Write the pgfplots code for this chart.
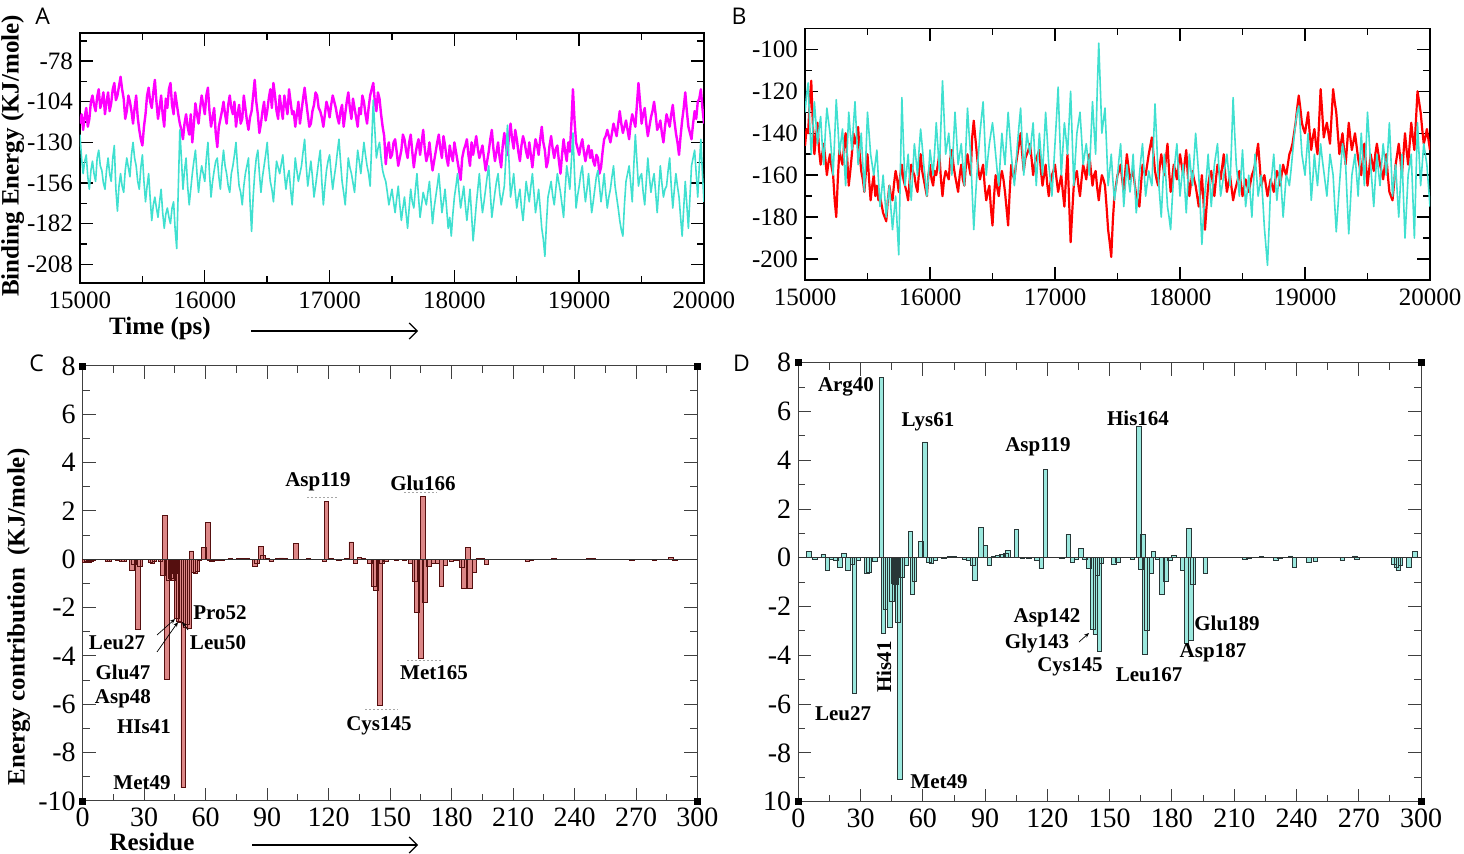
\documentclass[border=0pt]{standalone}
\usepackage{fontspec}
\setmainfont{Liberation Serif}
\newfontfamily\panelfont{Open Sans}
\usepackage{pgfplots}
\usepackage{pgfplotstable}
\pgfplotsset{compat=1.18}
\usetikzlibrary{arrows.meta}

\definecolor{mag}{RGB}{255,0,255}
\definecolor{turq}{RGB}{64,224,208}
\definecolor{redl}{RGB}{255,0,0}
\definecolor{cfill}{RGB}{220,135,135}
\definecolor{cdraw}{RGB}{85,15,15}
\definecolor{dfill}{RGB}{155,232,222}
\definecolor{ddraw}{RGB}{40,55,55}

\pgfplotstableread{
t am ac br bc
15000 -118 -125 -146 -130
15012.5 -112 -140 -138 -122
15025 -122 -150 -140 -116
15037.5 -114 -142 -125 -135
15050 -108 -138 -115 -150
15062.5 -120 -152 -135 -138
15075 -115 -160 -150 -125
15087.5 -104 -148 -142 -135
15100 -100 -142 -135 -145
15112.5 -106 -150 -148 -138
15125 -110 -155 -155 -132
15137.5 -101 -140 -150 -145
15150 -96 -135 -145 -155
15162.5 -108 -145 -152 -140
15175 -104 -148 -160 -128
15187.5 -98 -156 -154 -134
15200 -112 -160 -150 -140
15212.5 -104 -148 -156 -150
15225 -98 -140 -160 -160
15237.5 -110 -150 -172 -142
15250 -105 -155 -180 -124
15262.5 -96 -140 -162 -136
15275 -92 -132 -148 -150
15287.5 -103 -160 -152 -144
15300 -100 -174 -155 -138
15312.5 -94 -158 -146 -152
15325 -88 -150 -140 -165
15337.5 -96 -158 -152 -148
15350 -102 -162 -165 -130
15362.5 -115 -148 -158 -140
15375 -110 -140 -150 -148
15387.5 -100 -146 -140 -136
15400 -104 -152 -145 -125
15412.5 -110 -138 -142 -140
15425 -118 -130 -137 -155
15437.5 -108 -140 -150 -148
15450 -100 -145 -158 -140
15462.5 -114 -155 -162 -155
15475 -122 -160 -168 -168
15487.5 -128 -146 -158 -150
15500 -132 -138 -150 -130
15512.5 -120 -155 -162 -140
15525 -112 -168 -172 -150
15537.5 -100 -158 -165 -155
15550 -95 -150 -160 -160
15562.5 -104 -166 -170 -154
15575 -108 -180 -165 -148
15587.5 -98 -170 -172 -162
15600 -90 -165 -170 -175
15612.5 -104 -172 -174 -168
15625 -115 -178 -178 -160
15637.5 -108 -168 -180 -170
15650 -100 -160 -182 -180
15662.5 -112 -175 -172 -172
15675 -120 -185 -165 -165
15687.5 -102 -176 -170 -176
15700 -108 -172 -172 -186
15712.5 -96 -178 -164 -178
15725 -92 -182 -158 -170
15737.5 -106 -172 -162 -184
15750 -112 -168 -168 -198
15762.5 -98 -186 -160 -160
15775 -105 -198 -155 -123
15787.5 -112 -160 -162 -145
15800 -118 -122 -165 -165
15812.5 -122 -140 -168 -158
15825 -128 -160 -172 -150
15837.5 -118 -148 -162 -162
15850 -112 -140 -155 -172
15862.5 -120 -158 -158 -158
15875 -125 -170 -160 -145
15887.5 -112 -160 -165 -152
15900 -130 -150 -168 -160
15912.5 -118 -142 -158 -148
15925 -105 -135 -150 -138
15937.5 -112 -150 -158 -146
15950 -118 -162 -162 -155
15962.5 -108 -152 -166 -162
15975 -100 -145 -170 -170
15987.5 -106 -150 -160 -160
16000 -112 -155 -155 -148
16012.5 -100 -140 -162 -154
16025 -95 -130 -165 -160
16037.5 -110 -150 -158 -148
16050 -120 -165 -160 -135
16062.5 -114 -155 -155 -146
16075 -108 -148 -150 -158
16087.5 -124 -142 -162 -136
16100 -133 -140 -170 -115
16112.5 -120 -152 -162 -132
16125 -115 -160 -158 -150
16137.5 -110 -145 -160 -145
16150 -104 -135 -162 -140
16162.5 -112 -145 -152 -150
16175 -118 -150 -148 -160
16187.5 -106 -158 -155 -145
16200 -100 -162 -160 -130
16212.5 -108 -150 -164 -142
16225 -112 -145 -168 -155
16237.5 -104 -138 -160 -150
16250 -120 -130 -155 -145
16262.5 -112 -146 -162 -155
16275 -106 -158 -165 -165
16287.5 -118 -162 -155 -146
16300 -115 -170 -150 -128
16312.5 -100 -158 -156 -140
16325 -108 -150 -160 -150
16337.5 -116 -145 -142 -168
16350 -122 -140 -134 -186
16362.5 -114 -168 -142 -172
16375 -110 -187 -150 -160
16387.5 -100 -165 -158 -150
16400 -90 -150 -162 -140
16412.5 -104 -140 -158 -132
16425 -112 -135 -155 -125
16437.5 -124 -150 -165 -142
16450 -118 -162 -172 -160
16462.5 -110 -152 -168 -152
16475 -104 -145 -165 -145
16487.5 -116 -138 -176 -140
16500 -110 -130 -184 -135
16512.5 -102 -145 -170 -142
16525 -96 -155 -160 -150
16537.5 -108 -160 -166 -158
16550 -92 -168 -170 -165
16562.5 -100 -155 -162 -152
16575 -110 -142 -158 -140
16587.5 -115 -146 -162 -148
16600 -100 -150 -168 -155
16612.5 -108 -144 -176 -142
16625 -115 -138 -184 -130
16637.5 -100 -150 -168 -140
16650 -106 -160 -155 -150
16662.5 -112 -152 -160 -158
16675 -96 -148 -162 -165
16687.5 -104 -160 -155 -155
16700 -112 -170 -150 -145
16712.5 -110 -155 -145 -136
16725 -120 -140 -140 -128
16737.5 -112 -148 -150 -145
16750 -104 -155 -158 -160
16762.5 -118 -150 -152 -150
16775 -110 -145 -150 -140
16787.5 -102 -136 -148 -145
16800 -95 -128 -145 -150
16812.5 -104 -145 -152 -142
16825 -112 -158 -160 -135
16837.5 -120 -150 -155 -150
16850 -118 -142 -152 -165
16862.5 -110 -152 -150 -152
16875 -106 -165 -148 -140
16887.5 -98 -158 -158 -150
16900 -100 -150 -165 -160
16912.5 -108 -142 -160 -145
16925 -110 -135 -155 -130
16937.5 -114 -155 -164 -142
16950 -120 -170 -170 -155
16962.5 -112 -158 -164 -162
16975 -104 -148 -160 -170
16987.5 -108 -142 -158 -158
17000 -114 -138 -155 -145
17012.5 -106 -150 -162 -132
17025 -100 -160 -168 -118
17037.5 -104 -152 -164 -140
17050 -108 -145 -160 -160
17062.5 -114 -136 -168 -148
17075 -118 -128 -175 -135
17087.5 -110 -142 -162 -142
17100 -106 -155 -150 -150
17112.5 -120 -162 -172 -135
17125 -112 -170 -192 -120
17137.5 -104 -155 -178 -142
17150 -98 -140 -165 -165
17162.5 -108 -146 -160 -152
17175 -115 -150 -158 -140
17187.5 -102 -156 -165 -135
17200 -108 -162 -170 -130
17212.5 -114 -148 -162 -142
17225 -120 -135 -155 -155
17237.5 -108 -142 -158 -150
17250 -112 -150 -162 -145
17262.5 -100 -140 -155 -152
17275 -104 -130 -150 -160
17287.5 -112 -138 -158 -142
17300 -118 -145 -165 -125
17312.5 -108 -150 -160 -138
17325 -100 -158 -158 -150
17337.5 -96 -130 -166 -120
17350 -92 -103 -172 -97
17362.5 -104 -122 -165 -118
17375 -110 -140 -160 -140
17387.5 -98 -134 -162 -134
17400 -102 -130 -165 -128
17412.5 -112 -140 -175 -146
17425 -120 -148 -186 -165
17437.5 -126 -152 -192 -158
17450 -144 -155 -199 -150
17462.5 -134 -162 -182 -162
17475 -130 -170 -170 -172
17487.5 -140 -165 -165 -166
17500 -138 -160 -160 -160
17512.5 -130 -168 -158 -152
17525 -128 -175 -155 -145
17537.5 -136 -166 -162 -160
17550 -145 -158 -168 -175
17562.5 -140 -170 -158 -165
17575 -135 -180 -150 -155
17587.5 -125 -172 -156 -162
17600 -128 -165 -162 -168
17612.5 -135 -175 -160 -160
17625 -140 -185 -158 -150
17637.5 -130 -172 -164 -164
17650 -125 -160 -170 -178
17662.5 -136 -168 -172 -170
17675 -146 -172 -175 -160
17687.5 -138 -160 -165 -152
17700 -132 -150 -155 -145
17712.5 -128 -165 -158 -158
17725 -138 -178 -160 -170
17737.5 -130 -170 -155 -164
17750 -122 -162 -150 -158
17762.5 -134 -166 -146 -162
17775 -142 -170 -142 -165
17787.5 -138 -162 -150 -145
17800 -130 -155 -158 -126
17812.5 -140 -168 -162 -142
17825 -148 -182 -165 -160
17837.5 -142 -172 -156 -170
17850 -136 -165 -150 -180
17862.5 -130 -158 -155 -165
17875 -125 -150 -160 -150
17887.5 -134 -162 -152 -162
17900 -140 -175 -145 -175
17912.5 -126 -168 -158 -180
17925 -132 -160 -168 -186
17937.5 -140 -172 -162 -172
17950 -145 -185 -155 -160
17962.5 -132 -178 -158 -152
17975 -138 -190 -162 -145
17987.5 -142 -176 -155 -158
18000 -130 -165 -150 -170
18012.5 -136 -158 -155 -162
18025 -142 -150 -160 -155
18037.5 -148 -162 -154 -166
18050 -154 -172 -148 -178
18062.5 -140 -165 -160 -164
18075 -135 -158 -170 -150
18087.5 -132 -170 -164 -158
18100 -128 -180 -158 -165
18112.5 -138 -170 -162 -152
18125 -145 -160 -165 -140
18137.5 -130 -176 -170 -150
18150 -138 -193 -175 -160
18162.5 -132 -182 -168 -176
18175 -126 -170 -160 -193
18187.5 -134 -160 -172 -180
18200 -140 -150 -186 -168
18212.5 -136 -165 -175 -160
18225 -132 -175 -165 -150
18237.5 -140 -168 -160 -162
18250 -148 -160 -158 -175
18262.5 -142 -152 -164 -165
18275 -136 -145 -170 -155
18287.5 -128 -162 -162 -150
18300 -122 -178 -155 -145
18312.5 -134 -170 -158 -158
18325 -142 -162 -162 -170
18337.5 -136 -155 -156 -165
18350 -130 -150 -150 -160
18362.5 -140 -162 -160 -155
18375 -146 -170 -168 -150
18387.5 -132 -164 -164 -158
18400 -124 -158 -160 -165
18412.5 -132 -140 -166 -145
18425 -138 -119 -172 -123
18437.5 -126 -142 -168 -140
18450 -118 -165 -165 -155
18462.5 -128 -158 -162 -162
18475 -134 -150 -158 -170
18487.5 -122 -162 -164 -160
18500 -128 -172 -170 -148
18512.5 -136 -165 -166 -162
18525 -142 -160 -162 -175
18537.5 -132 -172 -165 -168
18550 -126 -180 -168 -160
18562.5 -130 -168 -164 -170
18575 -136 -155 -160 -180
18587.5 -140 -162 -158 -165
18600 -130 -168 -155 -150
18612.5 -138 -158 -150 -160
18625 -146 -150 -145 -170
18637.5 -136 -162 -155 -165
18650 -128 -175 -165 -160
18662.5 -132 -168 -162 -172
18675 -138 -160 -160 -185
18687.5 -128 -172 -165 -194
18700 -120 -185 -170 -203
18712.5 -130 -192 -166 -185
18725 -135 -203 -162 -165
18737.5 -146 -182 -165 -158
18750 -142 -165 -168 -150
18762.5 -132 -160 -162 -162
18775 -126 -155 -158 -172
18787.5 -134 -164 -160 -164
18800 -140 -170 -165 -155
18812.5 -134 -160 -160 -168
18825 -132 -150 -155 -180
18837.5 -142 -156 -158 -170
18850 -150 -162 -160 -160
18862.5 -138 -170 -155 -162
18875 -128 -178 -150 -165
18887.5 -136 -160 -148 -158
18900 -142 -145 -145 -150
18912.5 -130 -152 -140 -142
18925 -136 -160 -135 -135
18937.5 -118 -142 -128 -130
18950 -96 -124 -122 -127
18962.5 -116 -150 -128 -138
18975 -130 -172 -135 -150
18987.5 -134 -164 -138 -155
19000 -138 -158 -140 -160
19012.5 -132 -150 -135 -150
19025 -128 -145 -130 -140
19037.5 -136 -158 -140 -156
19050 -142 -168 -148 -172
19062.5 -136 -160 -142 -162
19075 -132 -150 -138 -150
19087.5 -140 -162 -145 -158
19100 -135 -175 -150 -165
19112.5 -142 -168 -135 -155
19125 -145 -160 -119 -145
19137.5 -138 -152 -130 -152
19150 -140 -148 -142 -158
19162.5 -150 -158 -138 -164
19175 -146 -168 -135 -170
19187.5 -136 -160 -140 -160
19200 -128 -150 -145 -150
19212.5 -126 -162 -132 -155
19225 -122 -172 -119 -160
19237.5 -126 -165 -125 -174
19250 -130 -160 -130 -187
19262.5 -124 -152 -140 -176
19275 -118 -145 -150 -165
19287.5 -122 -158 -145 -155
19300 -126 -165 -140 -145
19312.5 -118 -172 -148 -150
19325 -110 -180 -155 -155
19337.5 -118 -186 -145 -172
19350 -124 -190 -135 -188
19362.5 -120 -170 -142 -174
19375 -116 -155 -148 -160
19387.5 -122 -150 -144 -155
19400 -128 -145 -140 -150
19412.5 -118 -156 -146 -160
19425 -112 -168 -152 -170
19437.5 -116 -145 -156 -155
19450 -120 -125 -160 -140
19462.5 -106 -142 -152 -152
19475 -92 -158 -145 -165
19487.5 -104 -152 -155 -148
19500 -118 -150 -165 -130
19512.5 -112 -162 -158 -142
19525 -108 -170 -150 -155
19537.5 -118 -155 -154 -165
19550 -126 -140 -158 -175
19562.5 -120 -152 -150 -162
19575 -114 -162 -145 -150
19587.5 -110 -155 -150 -158
19600 -104 -150 -155 -165
19612.5 -112 -162 -158 -155
19625 -122 -175 -162 -145
19637.5 -120 -160 -156 -152
19650 -116 -145 -150 -160
19662.5 -124 -156 -160 -148
19675 -130 -165 -168 -135
19687.5 -120 -160 -170 -152
19700 -112 -158 -172 -170
19712.5 -116 -148 -164 -162
19725 -120 -140 -155 -155
19737.5 -112 -158 -150 -168
19750 -106 -172 -145 -180
19762.5 -116 -160 -152 -165
19775 -124 -150 -160 -150
19787.5 -130 -158 -150 -170
19800 -138 -165 -140 -190
19812.5 -126 -178 -148 -175
19825 -116 -190 -155 -160
19837.5 -108 -172 -145 -155
19850 -98 -155 -135 -150
19862.5 -110 -170 -142 -170
19875 -120 -185 -148 -190
19887.5 -124 -165 -134 -162
19900 -128 -145 -120 -135
19912.5 -118 -140 -125 -150
19925 -110 -135 -130 -165
19937.5 -115 -150 -138 -155
19950 -104 -165 -145 -145
19962.5 -102 -145 -142 -150
19975 -96 -128 -138 -155
19987.5 -108 -150 -143 -165
20000 -118 -168 -148 -175
}\tsdata

\pgfplotstableread{
r v
1 -0.12
2 -0.10
3 -0.12
4 -0.08
5 -0.06
8 -0.02
12 -0.08
13 -0.10
17 -0.05
19 -0.10
20 -0.08
24 -0.45
25 -0.20
27 -2.90
28 -0.30
33 -0.12
34 -0.15
35 -0.10
38 -0.10
39 -0.65
40 1.82
41 -4.95
42 -0.85
43 -0.80
44 -0.85
45 -0.60
46 -2.45
47 -2.55
48 -2.60
49 -9.45
50 -2.80
51 -2.70
52 -2.85
53 0.35
54 -0.55
55 -0.60
56 -0.50
57 -0.05
59 0.50
61 1.52
62 -0.05
63 -0.08
65 -0.05
68 -0.04
72 0.02
76 0.03
78 0.02
80 0.02
84 -0.28
85 -0.15
87 0.55
88 0.15
90 0.05
92 -0.08
95 0.05
97 0.06
99 0.03
104 0.65
110 0.02
114 -0.02
118 -0.10
119 2.40
121 0.03
125 -0.03
129 0.05
131 0.72
133 -0.15
135 0.08
137 0.05
140 -0.15
142 -1.10
143 -1.30
145 -6.05
146 -0.15
148 -0.08
153 -0.03
157 -0.03
160 -0.15
162 -0.90
163 -2.20
165 -4.10
166 2.60
167 -1.80
169 -0.30
171 -0.15
173 -0.18
175 -1.10
177 -0.25
180 -0.08
182 -0.05
185 -0.35
186 -1.20
188 0.50
189 -1.20
191 -0.55
193 0.05
195 0.03
197 -0.22
217 -0.08
219 -0.03
224 -0.02
230 0.02
235 -0.02
247 0.05
249 0.05
265 -0.02
268 -0.04
279 -0.04
287 0.08
289 -0.05
293 -0.02
298 -0.02
}\cdata

\pgfplotstableread{
r v
5 0.25
8 -0.05
12 0.15
14 -0.50
16 -0.08
18 -0.10
20 -0.40
22 0.18
24 -0.52
26 -0.25
27 -5.55
29 -0.10
33 -0.65
34 -0.60
37 -0.15
40 7.40
41 -3.10
42 -2.10
44 -2.85
45 -1.80
46 -1.05
47 -1.10
48 -2.65
49 -9.10
50 -0.80
52 -0.30
54 1.08
55 -1.48
56 -0.95
59 0.67
61 4.75
63 -0.20
64 -0.22
66 -0.10
70 -0.03
73 0.04
75 0.06
77 0.03
80 -0.08
82 -0.12
84 -0.30
85 -0.92
88 1.26
90 0.50
92 -0.30
94 0.05
96 0.10
98 0.15
100 0.20
101 0.30
105 1.15
108 -0.03
111 -0.02
115 -0.10
117 -0.45
119 3.63
121 0.03
124 0.02
127 -0.02
130 0.96
132 -0.18
134 -0.08
136 0.37
138 -0.05
140 -0.45
142 -2.92
143 -3.15
144 -0.72
145 -3.85
146 -0.22
152 -0.27
154 -0.20
161 -0.05
164 5.40
165 -0.48
166 0.96
167 -3.95
168 -2.96
170 -0.62
171 0.25
173 -0.05
175 -1.48
177 -0.97
179 -0.10
181 0.10
185 -0.50
187 -3.50
188 1.22
189 -3.40
190 -1.10
193 0.03
196 -0.62
204 0.02
215 -0.06
217 -0.03
223 0.05
230 -0.10
232 -0.03
237 0.08
239 -0.38
246 -0.20
249 -0.15
262 -0.10
268 0.08
269 -0.08
279 0.02
287 -0.25
288 -0.40
289 -0.50
290 -0.30
294 -0.38
297 0.25
}\ddata

\pgfplotsset{
  common/.style={
    scale only axis, anchor=south west, tick align=inside,
    /pgf/number format/assume math mode=true,
    scaled ticks=false,
  },
  tsaxis/.style={
    common,
    axis line style={line width=0.8pt},
    every tick/.style={black, line width=0.7pt},
    major tick length=6.3pt, minor tick length=3.5pt,
    xmin=15000, xmax=20000,
    xtick={15000,16000,17000,18000,19000,20000},
    xticklabels={15000,16000,17000,18000,19000,20000},
    minor x tick num=1,
    ticklabel style={font=\rmfamily\fontsize{12.5}{14}\selectfont},
    xticklabel style={yshift=-1pt},
  },
  baraxis/.style={
    common,
    axis line style={line width=0.5pt, black!75},
    every tick/.style={black!75, line width=0.5pt},
    major tick length=6.5pt, minor tick length=3.5pt,
    xmin=0, xmax=300, ymin=-10, ymax=8,
    xtick={0,30,...,300},
    xticklabels={0,30,60,90,120,150,180,210,240,270,300},
    minor x tick num=1,
    ytick={-10,-8,...,8},
    minor y tick num=1,
    ticklabel style={font=\rmfamily\fontsize{14}{16}\selectfont},
    clip=false,
  },
}

\begin{document}
\begin{tikzpicture}
\useasboundingbox (0pt,0pt) rectangle (732pt,426.5pt);

% ---------- Panel A ----------
\begin{axis}[tsaxis, at={(40pt,285pt)}, width=312pt, height=125pt,
  ymin=-220, ymax=-60,
  ytick={-208,-182,-156,-130,-104,-78},
  yticklabels={-208,-182,-156,-130,-104,-78},
  minor ytick={-195,-169,-143,-117,-91,-65}]
\addplot[mag, line width=1.2pt, line join=round] table[x=t,y=am]{\tsdata};
\addplot[turq, line width=0.8pt, line join=round] table[x=t,y=ac]{\tsdata};
\end{axis}

% ---------- Panel B ----------
\begin{axis}[tsaxis, at={(402.5pt,286.5pt)}, width=312.5pt, height=125.8pt,
  ymin=-210, ymax=-90,
  ytick={-200,-180,-160,-140,-120,-100},
  yticklabels={-200,-180,-160,-140,-120,-100},
  minor y tick num=1]
\addplot[redl, line width=1.1pt, line join=round] table[x=t,y=br]{\tsdata};
\addplot[turq, line width=0.8pt, line join=round] table[x=t,y=bc]{\tsdata};
\end{axis}

% ---------- Panel C ----------
\begin{axis}[baraxis, at={(41.35pt,26pt)}, width=307.4pt, height=217.5pt,
  yticklabels={-10,-8,-6,-4,-2,0,2,4,6,8}]
\addplot[ybar, bar width=2.2, fill=cfill, draw=cdraw, line width=0.35pt] table[x=r,y=v]{\cdata};
\addplot[black!80, line width=0.5pt] coordinates {(0,0) (300,0)};
\addplot[only marks, mark=square*, mark size=1.5pt, black] coordinates {(0,8) (300,8) (0,-10) (300,-10)};
\end{axis}

% ---------- Panel D ----------
\begin{axis}[baraxis, at={(399.15pt,25.65pt)}, width=311.4pt, height=219.5pt,
  yticklabels={10,-8,-6,-4,-2,0,2,4,6,8}]
\addplot[ybar, bar width=2.2, fill=dfill, draw=ddraw, line width=0.35pt] table[x=r,y=v]{\ddata};
\addplot[black!80, line width=0.5pt] coordinates {(0,0) (300,0)};
\addplot[only marks, mark=square*, mark size=1.5pt, black] coordinates {(0,8) (300,8) (0,-10) (300,-10)};
\end{axis}

% ---------- panel letters ----------
\begin{scope}[every node/.style={font=\panelfont\fontsize{11.5}{13}\selectfont, inner sep=0pt}]
\node at (21.3pt,418.5pt) {A};
\node at (369.5pt,418.5pt) {B};
\node at (18.3pt,245pt) {C};
\node at (370.8pt,245pt) {D};
\end{scope}

% ---------- axis titles ----------
\node[rotate=90, anchor=north, inner sep=0pt, font=\bfseries\fontsize{12.5}{14}\selectfont] at (0.5pt,348.5pt) {Binding Energy (KJ/mole)};
\node[font=\bfseries\fontsize{12.5}{14}\selectfont, inner sep=0pt] at (80pt,262.5pt) {Time (ps)};
\draw[-{Straight Barb[length=4pt,width=8pt]}, line width=0.6pt] (125.5pt,261pt) -- (209pt,261pt);
\node[rotate=90, anchor=north, inner sep=0pt, font=\bfseries\fontsize{12.5}{14}\selectfont] at (3.5pt,118pt) {Energy contribution\ \ (KJ/mole)};
\node[font=\bfseries\fontsize{12.5}{14}\selectfont, inner sep=0pt] at (76pt,5.5pt) {Residue};
\draw[-{Straight Barb[length=4pt,width=8pt]}, line width=0.6pt] (126pt,4pt) -- (209pt,4pt);

% ---------- residue labels ----------
\begin{scope}[every node/.style={font=\bfseries\fontsize{10.5}{12}\selectfont, inner sep=0pt}]
\node at (159pt,185.5pt) {Asp119};
\node at (211.5pt,185pt) {Glu166};
\node at (110pt,120pt) {Pro52};
\node at (109pt,105pt) {Leu50};
\node at (58.5pt,105pt) {Leu27};
\node at (61.5pt,90.5pt) {Glu47};
\node at (61.5pt,77pt) {Asp48};
\node at (72pt,63pt) {HIs41};
\node at (71pt,35pt) {Met49};
\node at (217pt,90pt) {Met165};
\node at (189.5pt,63.5pt) {Cys145};
\node at (423pt,233pt) {Arg40};
\node at (464pt,215.5pt) {Lys61};
\node at (519pt,203pt) {Asp119};
\node at (421.5pt,69.5pt) {Leu27};
\node[rotate=90] at (442pt,93pt) {His41};
\node at (469.5pt,35.5pt) {Met49};
\node at (523.5pt,117.5pt) {Asp142};
\node at (518.5pt,105pt) {Gly143};
\node at (535pt,93pt) {Cys145};
\node at (569pt,217.5pt) {His164};
\node at (613.5pt,115pt) {Glu189};
\node at (606.5pt,100pt) {Asp187};
\node at (574.5pt,89pt) {Leu167};
\end{scope}

% small annotation arrows and dashes
\draw[-{Stealth[length=2.5pt,width=2pt]}, line width=0.35pt] (78.5pt,109pt) -- (87.5pt,117pt);
\draw[-{Stealth[length=2.5pt,width=2pt]}, line width=0.35pt] (78.5pt,100.5pt) -- (89pt,115.5pt);
\draw[-{Stealth[length=2.5pt,width=2pt]}, line width=0.35pt] (94pt,111.5pt) -- (91pt,115.5pt);
\draw[-{Stealth[length=2.5pt,width=2pt]}, line width=0.35pt] (539.5pt,105.5pt) -- (544.5pt,110pt);
\begin{scope}[black!35, line width=0.3pt, dash pattern=on 1pt off 1pt]
\draw (153.5pt,178pt) -- (169pt,178pt);
\draw (202pt,180.5pt) -- (218.5pt,180.5pt);
\draw (203.5pt,96.5pt) -- (221.5pt,96.5pt);
\draw (182.5pt,72pt) -- (199pt,72pt);
\end{scope}
\end{tikzpicture}
\end{document}
